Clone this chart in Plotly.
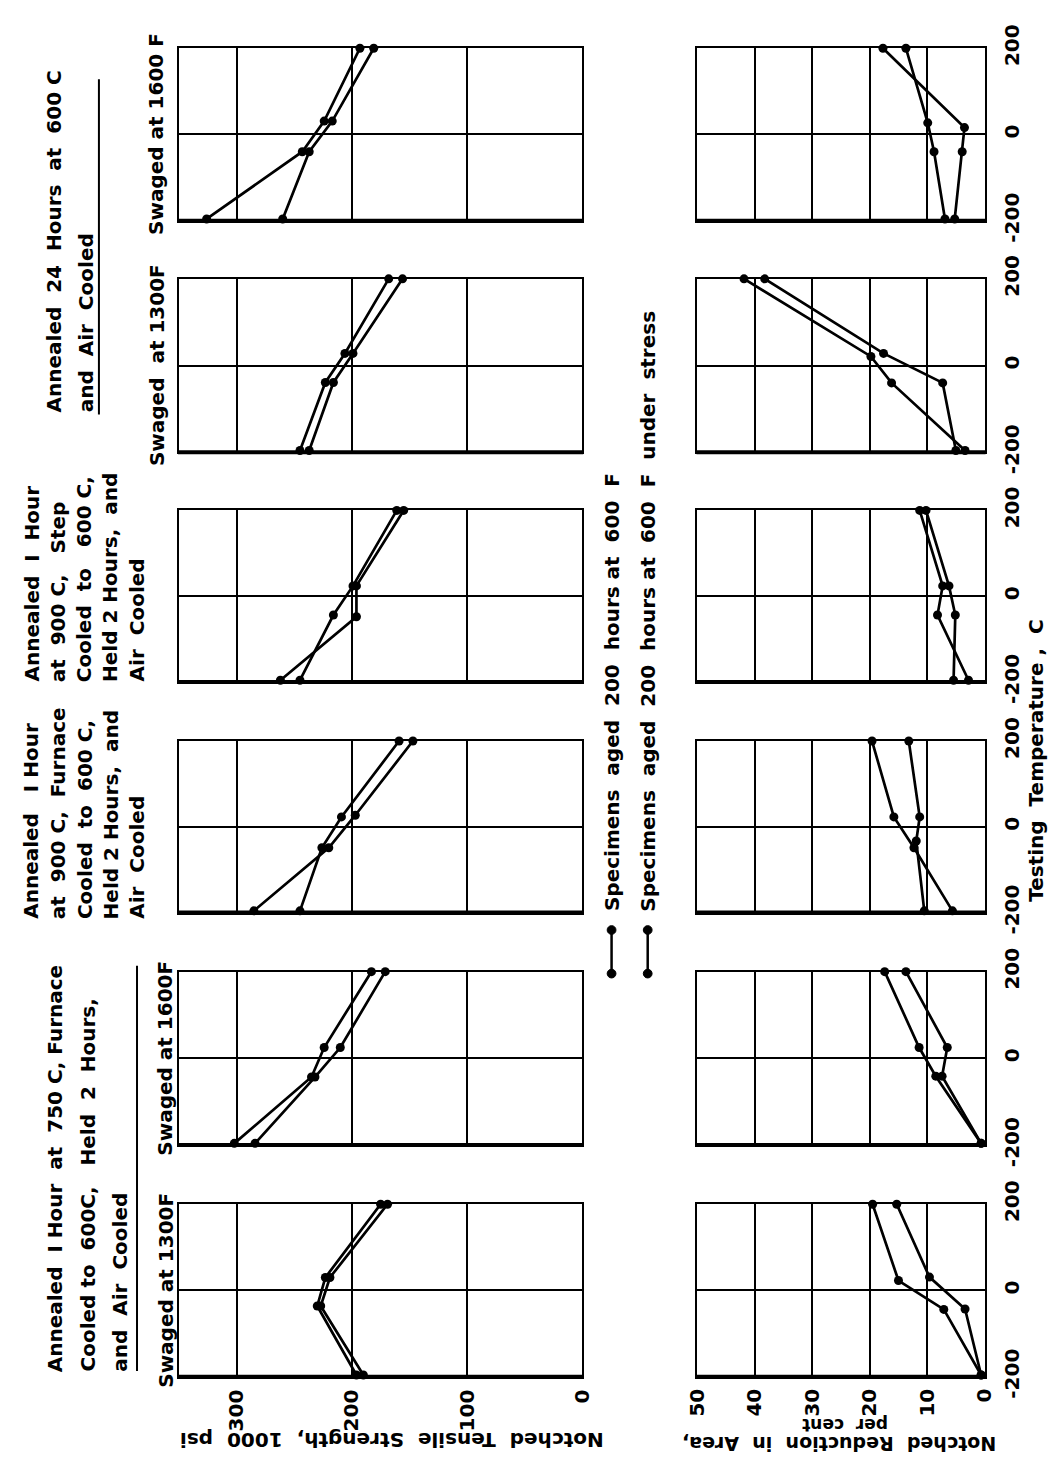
import plotly.graph_objects as go

W, H = 1062, 1483

# ---------------- data (P1 = bottom panel ... P6 = top panel) ----------------
# Series A: "Specimens aged 200 hours at 600 F"
# Series B: "Specimens aged 200 hours at 600 F under stress"
P1_TS_T_A = [-196, -36, 30, 200]; P1_TS_A = [196, 230, 223, 175]
P1_TS_T_B = [-196, -36, 30, 200]; P1_TS_B = [190, 227, 219, 169]
P1_RA_T_A = [-196, -44, 23, 200]; P1_RA_A = [0.6, 7.1, 15.0, 19.5]
P1_RA_T_B = [-196, -43, 31, 200]; P1_RA_B = [0.6, 3.4, 9.6, 15.3]

P2_TS_T_A = [-196, -43, 25, 200]; P2_TS_A = [302, 235, 224, 183]
P2_TS_T_B = [-196, -43, 25, 200]; P2_TS_B = [284, 232, 210, 171]
P2_RA_T_A = [-196, -41, 25, 200]; P2_RA_A = [0.6, 8.5, 11.4, 17.4]
P2_RA_T_B = [-196, -41, 25, 200]; P2_RA_B = [0.6, 7.4, 6.5, 13.7]

P3_TS_T_A = [-196, -49, 23, 200]; P3_TS_A = [245, 226, 209, 159]
P3_TS_T_B = [-196, -49, 27, 200]; P3_TS_B = [285, 220, 197, 147]
P3_RA_T_A = [-196, -49, 23, 200]; P3_RA_A = [5.6, 12.3, 15.8, 19.6]
P3_RA_T_B = [-196, -33, 23, 200]; P3_RA_B = [10.5, 11.9, 11.3, 13.2]

P4_TS_T_A = [-196, -44, 24, 200]; P4_TS_A = [245, 216, 199, 161]
P4_TS_T_B = [-196, -48, 24, 200]; P4_TS_B = [262, 196, 196, 155]
P4_RA_T_A = [-196, -44, 24, 200]; P4_RA_A = [2.8, 8.2, 7.3, 11.3]
P4_RA_T_B = [-196, -44, 24, 200]; P4_RA_B = [5.4, 5.1, 6.2, 10.2]

P5_TS_T_A = [-196, -39, 28, 200]; P5_TS_A = [245, 223, 206, 168]
P5_TS_T_B = [-196, -39, 28, 200]; P5_TS_B = [237, 216, 199, 156]
P5_RA_T_A = [-196, -40, 21, 200]; P5_RA_A = [3.4, 16.2, 19.8, 41.9]
P5_RA_T_B = [-196, -40, 28, 200]; P5_RA_B = [5.0, 7.3, 17.6, 38.3]

P6_TS_T_A = [-196, -40, 31, 200]; P6_TS_A = [326, 243, 224, 193]
P6_TS_T_B = [-196, -40, 31, 200]; P6_TS_B = [260, 237, 217, 181]
P6_RA_T_A = [-196, -40, 16, 200]; P6_RA_A = [5.2, 3.9, 3.5, 17.7]
P6_RA_T_B = [-196, -40, 27, 200]; P6_RA_B = [6.9, 8.8, 9.9, 13.7]

TS_TICKS = [300, 200, 100, 0]
RA_TICKS = [50, 40, 30, 20, 10, 0]
TEMP_TICKS = [-200, 0, 200]
TEMP_TICKTEXT = ["-200", "0", "200"]

SWAGED = ["Swaged at 1300F", "Swaged at 1600F", None, None,
          "Swaged\u00a0 at 1300F", "Swaged at 1600\u00a0F"]

LEGEND_TEXT = ["Specimens\u00a0 aged\u00a0 200\u00a0 hours at\u00a0 600\u00a0 F",
               "Specimens\u00a0 aged\u00a0 200\u00a0 hours at\u00a0 600\u00a0 F\u00a0 under\u00a0 stress"]

PANELS = [
    (P1_TS_T_A, P1_TS_A, P1_TS_T_B, P1_TS_B, P1_RA_T_A, P1_RA_A, P1_RA_T_B, P1_RA_B),
    (P2_TS_T_A, P2_TS_A, P2_TS_T_B, P2_TS_B, P2_RA_T_A, P2_RA_A, P2_RA_T_B, P2_RA_B),
    (P3_TS_T_A, P3_TS_A, P3_TS_T_B, P3_TS_B, P3_RA_T_A, P3_RA_A, P3_RA_T_B, P3_RA_B),
    (P4_TS_T_A, P4_TS_A, P4_TS_T_B, P4_TS_B, P4_RA_T_A, P4_RA_A, P4_RA_T_B, P4_RA_B),
    (P5_TS_T_A, P5_TS_A, P5_TS_T_B, P5_TS_B, P5_RA_T_A, P5_RA_A, P5_RA_T_B, P5_RA_B),
    (P6_TS_T_A, P6_TS_A, P6_TS_T_B, P6_TS_B, P6_RA_T_A, P6_RA_A, P6_RA_T_B, P6_RA_B),
]

# ---------------- layout geometry (pixels) ----------------
PANEL_PX = [(1218, 1396), (978, 1157), (740, 917), (502, 679), (263, 442), (25, 203)]
TS_X = (170, 583)
RA_X = (701, 995)

FONT = "DejaVu Sans"
FS = 20


def fx(px):
    return px / W


def fy(py):
    return 1 - py / H


fig = go.Figure()
layout = dict(
    width=W, height=H, margin=dict(l=0, r=0, t=0, b=0),
    paper_bgcolor="white", plot_bgcolor="white", showlegend=False,
    font=dict(family=FONT, size=FS, color="black", weight="bold"),
)

axis_common = dict(showline=True, mirror=True, linecolor="black", linewidth=2,
                   showgrid=True, gridcolor="black", gridwidth=2, zeroline=False,
                   ticks="", fixedrange=True,
                   tickfont=dict(family=FONT, size=FS, color="black", weight="bold"))

shapes = []
for k, (top, bot) in enumerate(PANEL_PX):
    it, ir = 2 * k + 1, 2 * k + 2
    sfx_t = "" if it == 1 else str(it)
    sfx_r = str(ir)
    ydom = [fy(bot), fy(top)]
    layout["xaxis" + sfx_t] = dict(axis_common, domain=[fx(TS_X[0]), fx(TS_X[1])],
                                   anchor="y" + sfx_t, range=[350, 0],
                                   tickvals=TS_TICKS, showticklabels=(k == 0),
                                   tickangle=-90, ticklabelstandoff=3)
    layout["yaxis" + sfx_t] = dict(axis_common, domain=ydom, anchor="x" + sfx_t,
                                   range=[-200, 200], tickvals=TEMP_TICKS,
                                   showticklabels=False)
    layout["xaxis" + sfx_r] = dict(axis_common, domain=[fx(RA_X[0]), fx(RA_X[1])],
                                   anchor="y" + sfx_r, range=[50, 0],
                                   tickvals=RA_TICKS, showticklabels=(k == 0),
                                   tickangle=-90, ticklabelstandoff=2)
    layout["yaxis" + sfx_r] = dict(axis_common, domain=ydom, anchor="x" + sfx_r,
                                   range=[-200, 200], tickvals=TEMP_TICKS,
                                   ticktext=TEMP_TICKTEXT, side="right",
                                   showticklabels=True, tickangle=-90,
                                   ticklabelstandoff=8)
    # thick bottom edge of each frame
    for (x0, x1) in (TS_X, RA_X):
        shapes.append(dict(type="line", xref="paper", yref="paper",
                           x0=fx(x0 - 1), x1=fx(x1 + 1), y0=fy(bot), y1=fy(bot),
                           line=dict(color="black", width=4)))

    d = PANELS[k]
    for (tt, vv, ax) in ((d[0], d[1], it), (d[2], d[3], it), (d[4], d[5], ir), (d[6], d[7], ir)):
        sx = "" if ax == 1 else str(ax)
        fig.add_trace(go.Scatter(x=vv, y=tt, xaxis="x" + sx, yaxis="y" + sx,
                                 mode="lines+markers", cliponaxis=False,
                                 line=dict(color="black", width=2.7),
                                 marker=dict(color="black", size=9)))

annotations = []


def rot_text(text, x, y, yanchor="bottom", xanchor="center", size=FS, angle=-90):
    annotations.append(dict(text=text, x=fx(x), y=fy(y), xref="paper", yref="paper",
                            xanchor=xanchor, yanchor=yanchor, textangle=angle,
                            showarrow=False,
                            font=dict(family=FONT, size=size, color="black", weight="bold")))


# Titles (rotated, reading bottom-to-top)
TITLE_12 = ["Annealed\u00a0 I Hour\u00a0 at\u00a0 750\u00a0C, Furnace",
            "Cooled to\u00a0 600C,\u00a0\u00a0 Held\u00a0 2\u00a0 Hours,",
            "and\u00a0 Air\u00a0 Cooled"]
for txt, x in zip(TITLE_12, [43, 77, 110]):
    rot_text(txt, x, 1393)

TITLE_3 = ["Annealed\u00a0\u00a0 I Hour", "at\u00a0 900\u00a0C,\u00a0 Furnace",
           "Cooled\u00a0 to\u00a0 600\u00a0C,", "Held 2 Hours,\u00a0 and", "Air\u00a0 Cooled"]
for txt, x in zip(TITLE_3, [19, 46, 73, 100, 127]):
    rot_text(txt, x, 926)

TITLE_4 = ["Annealed\u00a0 I\u00a0 Hour", "at\u00a0 900\u00a0C,\u00a0\u00a0 Step",
           "Cooled\u00a0 to\u00a0\u00a0 600\u00a0C,", "Held 2 Hours,\u00a0 and", "Air\u00a0 Cooled"]
for txt, x in zip(TITLE_4, [19, 46, 73, 100, 127]):
    rot_text(txt, x, 681)

TITLE_56 = ["Annealed\u00a0 24\u00a0 Hours\u00a0 at\u00a0 600\u00a0C", "and\u00a0 Air\u00a0 Cooled"]
for txt, x in zip(TITLE_56, [43, 75]):
    rot_text(txt, x, 403)

# title rules
shapes.append(dict(type="line", xref="paper", yref="paper", x0=fx(127), x1=fx(127),
                   y0=fy(972), y1=fy(1390), line=dict(color="black", width=2)))
shapes.append(dict(type="line", xref="paper", yref="paper", x0=fx(88), x1=fx(88),
                   y0=fy(57), y1=fy(403), line=dict(color="black", width=2)))

# Swaged labels
SWAGED_X = [157, 156, None, None, 147, 147]
for k, (top, bot) in enumerate(PANEL_PX):
    if SWAGED[k]:
        rot_text(SWAGED[k], SWAGED_X[k], (top + bot) / 2, yanchor="middle")

# Legend
for txt, x in zip(LEGEND_TEXT, [613, 650]):
    rot_text(txt, x, 918)
    shapes.append(dict(type="line", xref="paper", yref="paper", x0=fx(x), x1=fx(x),
                       y0=fy(935), y1=fy(980), line=dict(color="black", width=2.5)))
    for yy in (935, 980):
        shapes.append(dict(type="circle", xref="paper", yref="paper",
                           x0=fx(x - 4.5), x1=fx(x + 4.5), y0=fy(yy + 4.5), y1=fy(yy - 4.5),
                           fillcolor="black", line=dict(color="black", width=1)))

# Axis titles
rot_text("Testing\u00a0 Temperature\u00a0,\u00a0 C", 1048, 760, yanchor="middle")


def flip_text(text, x, y, size=FS):
    annotations.append(dict(text=text, x=fx(x), y=fy(y), xref="paper", yref="paper",
                            xanchor="center", yanchor="middle", textangle=180,
                            showarrow=False, borderpad=0,
                            font=dict(family=FONT, size=size, color="black", weight="bold")))


flip_text("Notched\u00a0 Tensile\u00a0 Strength,\u00a0 1000\u00a0 psi", 388, 1462)
flip_text("Notched\u00a0 Reduction\u00a0 in\u00a0 Area,", 846, 1466, size=19)
flip_text("per\u00a0 cent", 852, 1446, size=17)

layout["annotations"] = annotations
layout["shapes"] = shapes
fig.update_layout(**layout)
fig.write_html("out.html", config={"displayModeBar": False},
               post_script="document.body.style.margin='0px';")
